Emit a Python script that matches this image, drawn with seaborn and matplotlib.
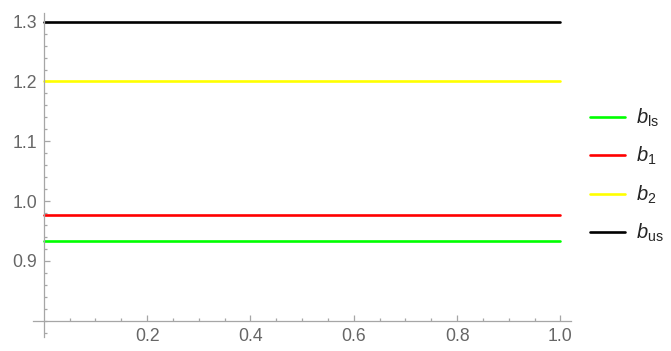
import matplotlib
matplotlib.use("Agg")
import numpy as np
import pandas as pd
import seaborn as sns
import matplotlib.pyplot as plt
from matplotlib.ticker import FixedLocator

# Constant levels drawn over the unit interval
series = [r"$b_{\mathrm{ls}}$", r"$b_{1}$", r"$b_{2}$", r"$b_{\mathrm{us}}$"]
levels = [0.933, 0.977, 1.2, 1.3]
colors = ["#00ff00", "#ff0000", "#ffff00", "#000000"]
x_span = [0.0, 1.0]

y_major = [0.9, 1.0, 1.1, 1.2, 1.3]
x_major = [0.2, 0.4, 0.6, 0.8, 1.0]

sns.set_style("white")
plt.rcParams["font.family"] = ["Liberation Sans", "DejaVu Sans"]
plt.rcParams["mathtext.fontset"] = "custom"
plt.rcParams["mathtext.rm"] = "Liberation Sans"
plt.rcParams["mathtext.it"] = "Liberation Sans:italic"

rows = []
for name, lev in zip(series, levels):
    for xv in x_span:
        rows.append({"x": xv, "y": lev, "series": name})
df = pd.DataFrame(rows)

fig = plt.figure(figsize=(6.71, 3.51), dpi=100)
ax = fig.add_axes([33 / 671, 1 - 337.4 / 351, (570.7 - 33) / 671, (337.4 - 13.3) / 351])

sns.lineplot(data=df, x="x", y="y", hue="series", hue_order=series,
             palette=dict(zip(series, colors)), linewidth=1.9, ax=ax, legend=True)

ax.set_xlim(-0.021, 1.02)
ax.set_ylim(0.772, 1.314)
ax.set_xlabel("")
ax.set_ylabel("")

axis_col = "#a6a6a6"
for side in ["top", "right"]:
    ax.spines[side].set_visible(False)
ax.spines["left"].set_position(("data", 0.0))
ax.spines["bottom"].set_position(("data", 0.8))
for side in ["left", "bottom"]:
    ax.spines[side].set_color(axis_col)
    ax.spines[side].set_linewidth(0.9)

ax.yaxis.set_major_locator(FixedLocator(y_major))
ax.yaxis.set_minor_locator(FixedLocator(
    [v for v in np.round(np.arange(0.78, 1.301, 0.02), 2) if not np.isclose(v, y_major).any()]))
ax.xaxis.set_major_locator(FixedLocator(x_major))
ax.xaxis.set_minor_locator(FixedLocator(
    [v for v in np.round(np.arange(0.05, 1.001, 0.05), 2) if not np.isclose(v, x_major).any()]))
ax.set_yticklabels([f"{v:.1f}" for v in y_major])
ax.set_xticklabels([f"{v:.1f}" for v in x_major])

ax.tick_params(which="both", direction="in", color=axis_col, width=0.9,
               labelcolor="#666666", labelsize=12.7,
               bottom=True, left=True, top=False, right=False)
ax.tick_params(which="major", length=4.4)
ax.tick_params(which="minor", length=2.4)
ax.tick_params(axis="y", which="both", pad=4.6)
ax.tick_params(axis="x", which="both", pad=5.5)
ax.grid(False)

handles, labels = ax.get_legend_handles_labels()
ax.legend(handles, labels, loc="center left", bbox_to_anchor=(590 / 671, 0.5),
          bbox_transform=fig.transFigure, frameon=False, fontsize=14.5,
          borderpad=0, borderaxespad=0, handlelength=1.75, handletextpad=0.55,
          labelspacing=0.8)

fig.savefig("out.png", dpi=100)
